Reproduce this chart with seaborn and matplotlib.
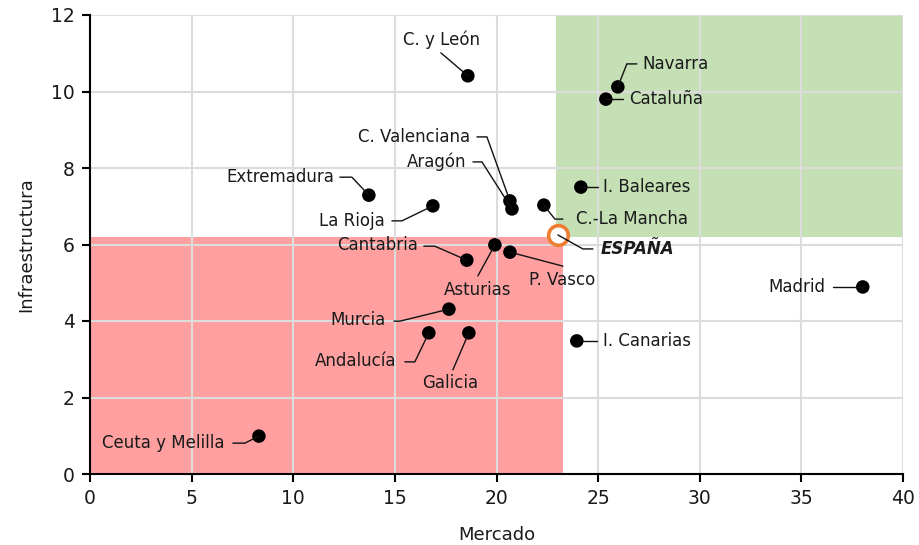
import matplotlib
matplotlib.use("Agg")
import matplotlib.pyplot as plt
from matplotlib.patches import Rectangle
from matplotlib.lines import Line2D
from matplotlib.transforms import IdentityTransform
import seaborn as sns
import pandas as pd

# ---- data ----
regions = ["Andalucía", "Aragón", "Asturias", "I. Baleares", "I. Canarias", "Cantabria",
           "C.-La Mancha", "C. y León", "Cataluña", "C. Valenciana", "Extremadura",
           "Galicia", "Madrid", "Murcia", "Navarra", "P. Vasco", "La Rioja", "Ceuta y Melilla"]
mercado = [16.67, 20.76, 19.92, 24.15, 23.95, 18.54, 22.33, 18.59, 25.38, 20.66, 13.72,
           18.64, 38.02, 17.66, 25.97, 20.66, 16.87, 8.31]
infraestructura = [3.69, 6.93, 5.99, 7.50, 3.48, 5.59, 7.03, 10.41, 9.80, 7.14, 7.29,
                   3.69, 4.89, 4.31, 10.12, 5.80, 7.01, 0.99]
espana_label = "ESPAÑA"
espana_mercado = 23.02
espana_infra = 6.25

x_ticks = [0, 5, 10, 15, 20, 25, 30, 35, 40]
y_ticks = [0, 2, 4, 6, 8, 10, 12]

# ---- label layout (pixel offsets from the point, y up) ----
layout = {
    "C. y León":       ([(0, 0), (-27, 23)], (-26, 36), "center"),
    "Navarra":         ([(0, 0), (9, 23), (19, 23)], (25, 23), "left"),
    "Cataluña":        ([(0, 0), (17, 0)], (23, 0), "left"),
    "I. Baleares":     ([(0, 0), (17, 0)], (22, 0), "left"),
    "Extremadura":     ([(0, 0), (-17, 18), (-29, 18)], (-35, 18), "right"),
    "La Rioja":        ([(0, 0), (-31, -15), (-41, -15)], (-48, -15), "right"),
    "Cantabria":       ([(0, 0), (-32, 14), (-43, 14)], (-49, 15), "right"),
    "Murcia":          ([(0, 0), (-49, -12), (-55, -12)], (-63, -11), "right"),
    "Andalucía":       ([(0, 0), (-14, -29), (-24, -29)], (-32, -28), "right"),
    "Galicia":         ([(0, 0), (-16, -37)], (-19, -50), "center"),
    "Asturias":        ([(0, 0), (-17, -31)], (-17, -45), "center"),
    "P. Vasco":        ([(0, 0), (53, -14)], (52, -28), "center"),
    "C.-La Mancha":    ([(0, 0), (11, -14), (19, -14)], (32, -14), "left"),
    "C. Valenciana":   ([(0, 0), (-23, 64), (-33, 64)], (-40, 64), "right"),
    "Aragón":          ([(0, 0), (-30, 47), (-39, 47)], (-46, 47), "right"),
    "Madrid":          ([(0, 0), (-30, 0)], (-37, 0), "right"),
    "I. Canarias":     ([(0, 0), (20, 0)], (26, 0), "left"),
    "Ceuta y Melilla": ([(0, 0), (-14, -7), (-26, -7)], (-34, -7), "right"),
    "ESPAÑA":          ([(0, 0), (25, -14), (35, -14)], (43, -14), "left"),
}

sns.set_style("ticks")
plt.rcParams['font.family'] = ['DejaVu Sans']

W, H = 919, 545
fig = plt.figure(figsize=(W / 100, H / 100), dpi=100)
ax = fig.add_axes([90 / W, 1 - 474 / H, 813 / W, 459 / H])

ax.set_xlim(0, 40)
ax.set_ylim(0, 12)

# quadrant backgrounds
ax.add_patch(Rectangle((0, 0), 23.25, 6.2, facecolor="#ff9f9f", edgecolor="none", zorder=0.1))
ax.add_patch(Rectangle((22.95, 6.2), 40 - 22.95, 12 - 6.2, facecolor="#c5e0b4",
                       edgecolor="none", zorder=0.1))

ax.set_axisbelow(True)
ax.grid(True, color="#dcdcdc", linewidth=1.5)

df = pd.DataFrame({"region": regions, "Mercado": mercado, "Infraestructura": infraestructura})
sns.scatterplot(data=df, x="Mercado", y="Infraestructura", color="black", s=95,
                edgecolor="none", ax=ax, zorder=4)
esp = pd.DataFrame({"Mercado": [espana_mercado], "Infraestructura": [espana_infra]})
sns.scatterplot(data=esp, x="Mercado", y="Infraestructura", color="white", s=200,
                edgecolor="#ed7d31", linewidth=2.6, ax=ax, zorder=4)

ax.set_xticks(x_ticks)
ax.set_yticks(y_ticks)
ax.set_xlim(0, 40)
ax.set_ylim(0, 12)

for s in ["top", "right"]:
    ax.spines[s].set_visible(False)
for s in ["left", "bottom"]:
    ax.spines[s].set_color("black")
    ax.spines[s].set_linewidth(1.5)
    ax.spines[s].set_zorder(5)
ax.tick_params(axis="both", direction="out", length=6, width=1.5, color="black",
               labelsize=13.5, labelcolor="#1a1a1a", pad=5)
ax.set_xlabel("Mercado", fontsize=13, color="#1a1a1a", labelpad=13)
ax.set_ylabel("Infraestructura", fontsize=13, color="#1a1a1a", labelpad=11)

fig.canvas.draw()


def annotate(name, x, y, bold=False):
    segs, (tx, ty), ha = layout[name]
    px, py = ax.transData.transform((x, y))
    xs = [px + dx for dx, dy in segs]
    ys = [py + dy for dx, dy in segs]
    ax.add_line(Line2D(xs, ys, transform=IdentityTransform(), color="#111111",
                       linewidth=1.0, zorder=5, clip_on=False))
    kw = dict(fontweight="bold", fontstyle="italic") if bold else {}
    ax.annotate(name, xy=(x, y), xytext=(tx, ty), textcoords="offset pixels",
                ha=ha, va="center", fontsize=12, color="#1a1a1a", zorder=6, **kw)


for name, x, y in zip(regions, mercado, infraestructura):
    annotate(name, x, y)
annotate(espana_label, espana_mercado, espana_infra, bold=True)

fig.savefig("out.png", dpi=100)
